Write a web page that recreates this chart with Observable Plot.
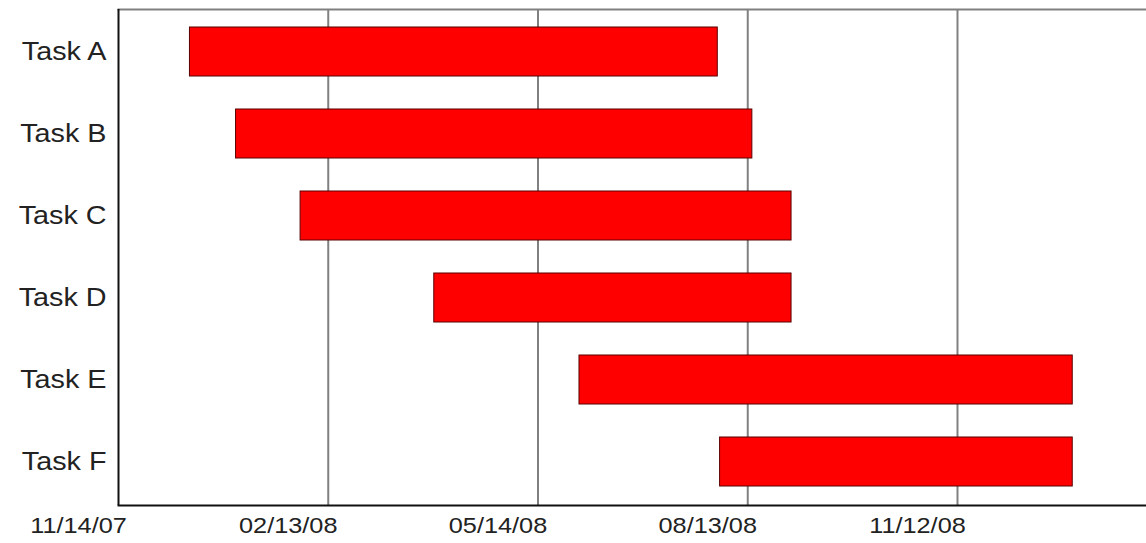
<!DOCTYPE html>
<html>
<head>
<meta charset="utf-8">
<script src="https://cdn.jsdelivr.net/npm/d3@7"></script>
<script src="https://cdn.jsdelivr.net/npm/@observablehq/plot@0.6"></script>
<style>
  html, body { margin: 0; padding: 0; background: #fff; }
  svg { font-family: "Liberation Sans", Arial, sans-serif; }
</style>
</head>
<body>
<div id="chart"></div>
<script>
const tasks = ["Task A", "Task B", "Task C", "Task D", "Task E", "Task F"];
const starts = ["2007-12-15", "2008-01-04", "2008-02-01", "2008-03-30", "2008-06-01", "2008-08-01"];
const ends   = ["2008-07-31", "2008-08-15", "2008-09-01", "2008-09-01", "2009-01-01", "2009-01-01"];
const tickDates = ["2007-11-14", "2008-02-13", "2008-05-14", "2008-08-13", "2008-11-12"];
const domainDates = ["2007-11-14", "2009-02-02"];

const parse = d3.utcParse("%Y-%m-%d");
const rows = tasks.map((t, i) => ({task: t, start: parse(starts[i]), end: parse(ends[i])}));
const ticks = tickDates.map(parse);
const xDomain = domainDates.map(parse);

const chart = Plot.plot({
  width: 1146,
  height: 543,
  marginLeft: 118,
  marginRight: 0,
  marginTop: 9,
  marginBottom: 38,
  style: {background: "#fff", color: "#222", fontFamily: "'Liberation Sans', Arial, sans-serif"},
  x: {type: "utc", domain: xDomain},
  y: {domain: tasks, paddingInner: 0.4, paddingOuter: 0.2},
  marks: [
    Plot.ruleX(ticks.slice(1), {stroke: "#808080", strokeWidth: 2}),
    Plot.frame({anchor: "top", stroke: "#808080", strokeWidth: 2}),
    Plot.barX(rows, {x1: "start", x2: "end", y: "task", fill: "#ff0000", stroke: "#5a0000", strokeWidth: 1}),
    Plot.ruleX([xDomain[0]], {stroke: "#111", strokeWidth: 2}),
    Plot.frame({anchor: "bottom", stroke: "#111", strokeWidth: 2}),
    Plot.axisY({tickSize: 0, tickPadding: 12, fontSize: 25, label: null}),
    Plot.axisX({ticks: ticks, tickFormat: d3.utcFormat("%m/%d/%y"), tickSize: 0, tickPadding: 12, fontSize: 22, dx: -40, label: null})
  ]
});
document.getElementById("chart").appendChild(chart);

// horizontal stretch of tick labels, as in the reference
chart.querySelectorAll('g[aria-label="y-axis tick label"] text, g[aria-label="x-axis tick label"] text').forEach(t => {
  const tr = t.getAttribute("transform");
  if (tr) {
    t.setAttribute("transform", tr + " scale(1.15,1)");
  } else {
    const x = t.getAttribute("x") || 0, y = t.getAttribute("y") || 0;
    t.removeAttribute("x"); t.removeAttribute("y");
    t.setAttribute("transform", `translate(${x},${y}) scale(1.15,1)`);
  }
});
</script>
</body>
</html>
